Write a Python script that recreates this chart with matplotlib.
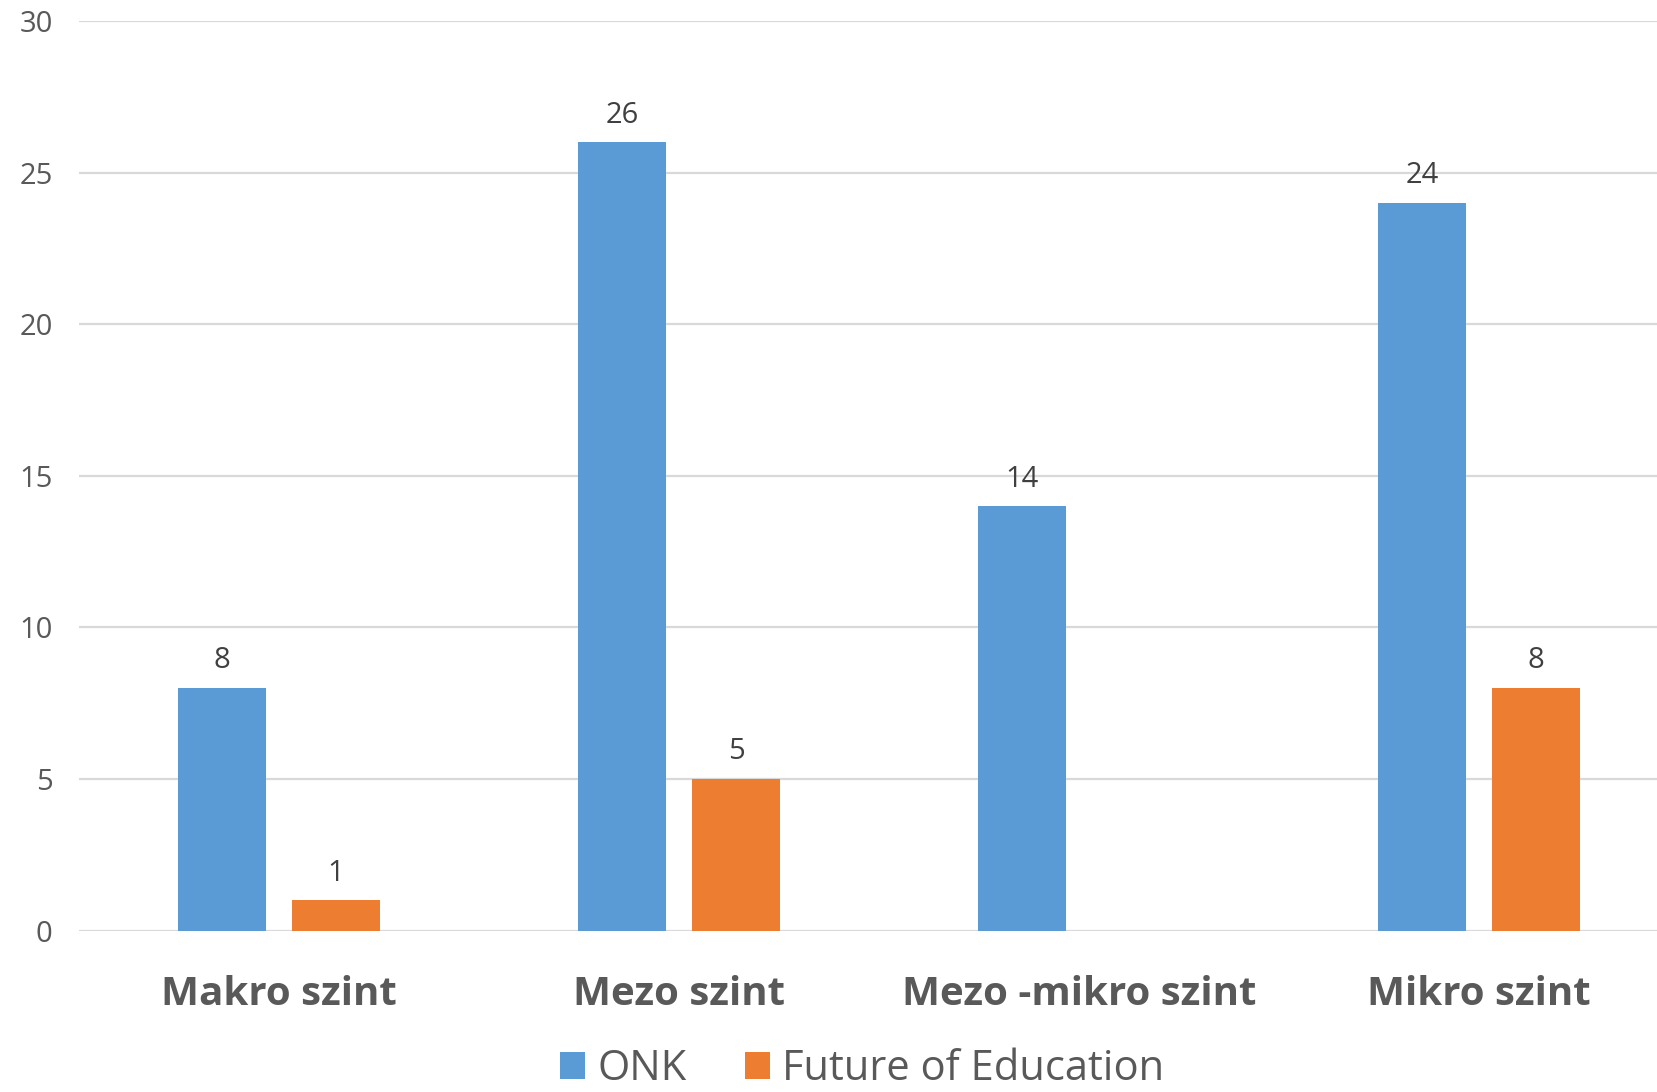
import matplotlib.pyplot as plt
import numpy as np

categories = ['Makro szint', 'Mezo szint', 'Mezo -mikro szint', 'Mikro szint']
onk = [8, 26, 14, 24]
future_edu = [1, 5, 0, 8]
series_names = ['ONK', 'Future of Education']

plt.rcParams['font.family'] = ['Open Sans', 'DejaVu Sans']

fig = plt.figure(figsize=(16.58, 10.92), dpi=100)
ax = fig.add_axes([79 / 1658, 161.5 / 1092, 1600 / 1658, 909.5 / 1092])

x = np.arange(len(categories))
width = 0.222
offset = 0.1425
bars_a = ax.bar(x - offset, onk, width, color='#5B9BD5', label=series_names[0], zorder=3)
bars_b = ax.bar(x + offset, future_edu, width, color='#ED7D31', label=series_names[1], zorder=3)

# value labels, skip zeros
for bars in (bars_a, bars_b):
    for b in bars:
        h = b.get_height()
        if h == 0:
            continue
        ax.annotate(f'{h:g}', (b.get_x() + b.get_width() / 2, h),
                    xytext=(0, 9), textcoords='offset points',
                    ha='center', va='bottom', fontsize=21, color='#404040')

ax.set_xlim(-0.5, 3.5)
ax.set_ylim(0, 30)
ax.set_yticks(range(0, 31, 5))
ax.yaxis.grid(True, color='#d9d9d9', linewidth=1.6, zorder=0)
ax.set_axisbelow(True)
for s in ax.spines.values():
    s.set_visible(False)
ax.tick_params(axis='y', length=0, pad=19, labelsize=21, labelcolor='#595959')
ax.tick_params(axis='x', length=0, pad=32)
ax.set_xticks(x)
ax.set_xticklabels(categories, fontsize=29, fontweight='bold', color='#595959')

fig.legend(loc='upper center', bbox_to_anchor=(0.52, 0.044), ncol=2, frameon=False,
           fontsize=30, handlelength=0.6, handleheight=0.6, handletextpad=0.3,
           columnspacing=1.4, labelcolor='#595959', borderaxespad=0, borderpad=0.1)

fig.savefig('out.png', dpi=100)
